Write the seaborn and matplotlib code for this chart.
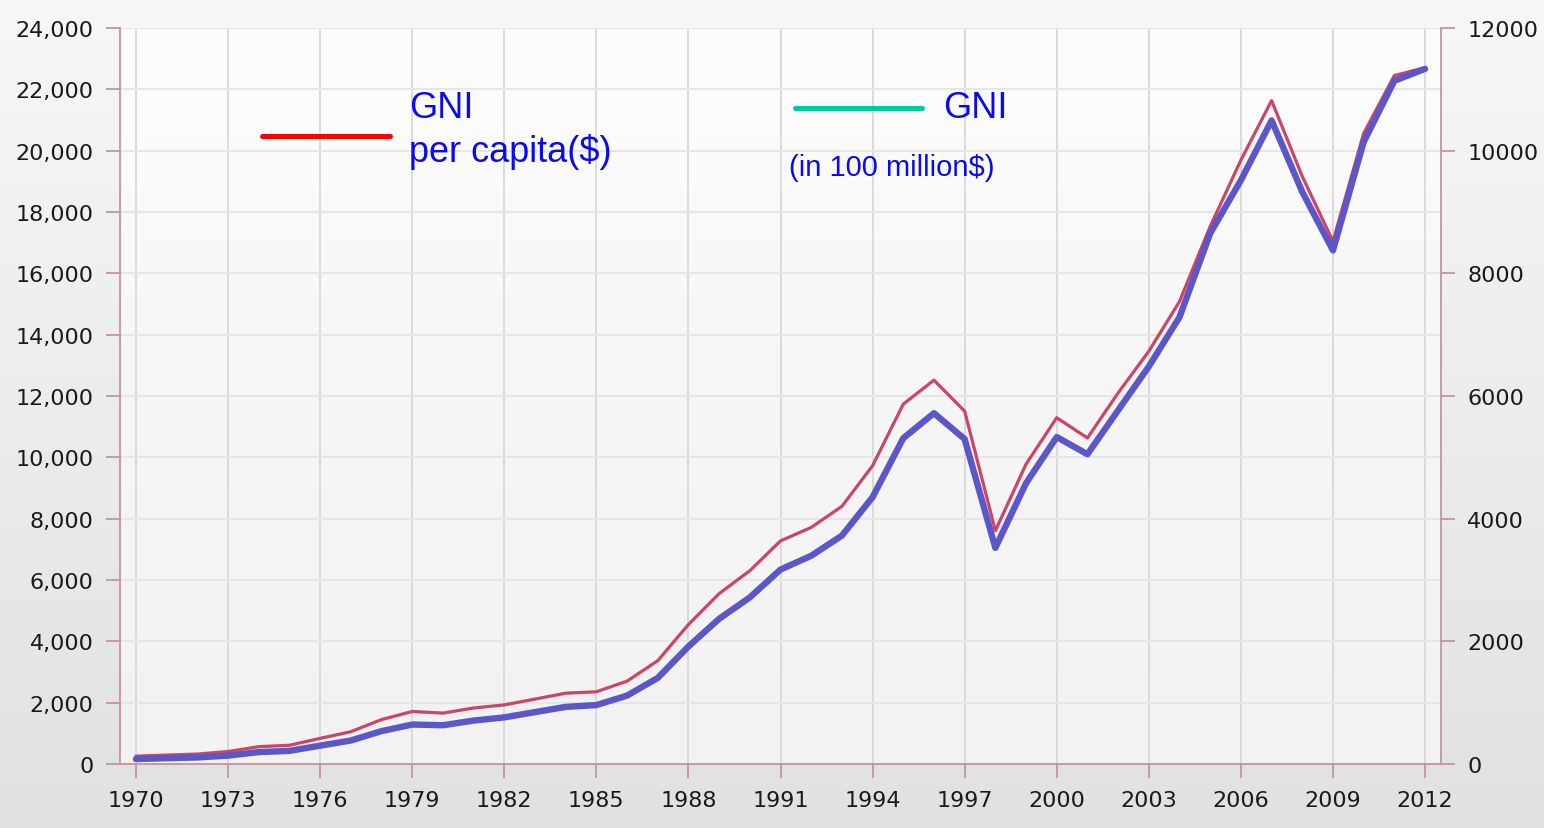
import numpy as np
import matplotlib
matplotlib.use("Agg")
import matplotlib.pyplot as plt
import seaborn as sns
from matplotlib.lines import Line2D
from matplotlib.ticker import FuncFormatter
from matplotlib.colors import LinearSegmentedColormap

# ---------------- data ----------------
years = list(range(1970, 2013))
gni_per_capita = [255, 291, 324, 407, 565, 611, 836, 1053, 1448, 1713,
                  1660, 1826, 1927, 2117, 2309, 2355, 2702, 3368, 4548, 5556,
                  6303, 7276, 7714, 8402, 9727, 11735, 12518, 11505, 7607, 9778,
                  11292, 10631, 12100, 13460, 15082, 17531, 19691, 21632, 19161, 17041,
                  20562, 22451, 22708]
gni_total = [81, 95, 107, 137, 194, 214, 299, 383, 536, 643,
             632, 708, 760, 846, 931, 961, 1115, 1403, 1916, 2367,
             2716, 3170, 3395, 3723, 4351, 5312, 5720, 5298, 3524, 4578,
             5331, 5050, 5767, 6480, 7286, 8651, 9517, 10493, 9327, 8374,
             10141, 11139, 11334]
x_ticks = list(range(1970, 2013, 3))
left_ticks = list(range(0, 24001, 2000))
right_ticks = list(range(0, 12001, 2000))
legend_labels = ["GNI", "per capita($)", "GNI", "(in 100 million$)"]

# ---------------- style ----------------
sns.set_theme(style="white")
plt.rcParams['font.family'] = ['DejaVu Sans']

W, H = 1544, 829
fig = plt.figure(figsize=(W / 100, H / 100), dpi=100)

# figure background gradient
bg = fig.add_axes([0, 0, 1, 1], zorder=-10)
grad = np.linspace(0, 1, 256).reshape(-1, 1)
bg.imshow(grad, aspect='auto', extent=[0, 1, 0, 1], origin='upper',
          cmap=LinearSegmentedColormap.from_list('bg', ['#f7f7f7', '#ececec', '#e1e1e1']))
bg.axis('off')

L, R, T, B = 120, 1441, 29, 765
ax = fig.add_axes([L / W, 1 - B / H, (R - L) / W, (B - T) / H])
ax.set_xlim(1969.48, 2012.52)
ax.set_ylim(0, 24000)

# plot-area background gradient
ax.imshow(grad, aspect='auto', extent=[1969.48, 2012.52, 0, 24000], origin='upper',
          cmap=LinearSegmentedColormap.from_list('pa', ['#fdfdfd', '#f6f6f6', '#f2f2f2']),
          zorder=0)

spine_col = '#c4949f'
red = '#cc4466'
blue = '#5b57c9'

sns.lineplot(x=years, y=gni_per_capita, ax=ax, color=red, linewidth=2.3,
             zorder=3, legend=False)
ax2 = ax.twinx()
sns.lineplot(x=years, y=gni_total, ax=ax2, color=blue, linewidth=4.6,
             zorder=3, legend=False, solid_capstyle='round', solid_joinstyle='round')
ax2.set_ylim(0, 12000)
ax.set_xlim(1969.48, 2012.52)

ax.set_xticks(x_ticks)
ax.set_yticks(left_ticks)
ax2.set_yticks(right_ticks)
ax.yaxis.set_major_formatter(FuncFormatter(lambda v, p: f"{int(v):,}"))
ax2.yaxis.set_major_formatter(FuncFormatter(lambda v, p: f"{int(v)}"))
ax.set_xlabel("")
ax.set_ylabel("")
ax2.set_ylabel("")

ax.grid(axis='x', color='#d8d8d8', linewidth=1.3, zorder=1)
ax.grid(axis='y', color='#e6e6e6', linewidth=1.5, zorder=1)
ax2.grid(False)

for sp in ['top', 'right']:
    ax.spines[sp].set_visible(False)
for sp in ['top', 'left', 'bottom']:
    ax2.spines[sp].set_visible(False)
for sp in ['left', 'bottom']:
    ax.spines[sp].set_color(spine_col)
    ax.spines[sp].set_linewidth(1.3)
ax2.spines['right'].set_color(spine_col)
ax2.spines['right'].set_linewidth(1.3)

ax.tick_params(axis='both', which='major', direction='out', length=10, width=1.3,
               color=spine_col, labelsize=16, labelcolor='#1a1a1a',
               bottom=True, left=True, pad=9)
ax2.tick_params(axis='y', which='major', direction='out', length=10, width=1.3,
                color=spine_col, labelsize=16, labelcolor='#1a1a1a',
                right=True, left=False, pad=9)

# ---------------- legend ----------------
def fx(px):
    return px / W

def fy(py):
    return 1 - py / H

fig.add_artist(Line2D([fx(262), fx(390)], [fy(137), fy(137)], color='#ff0000',
                      linewidth=3.6, transform=fig.transFigure))
fig.add_artist(Line2D([fx(795), fx(922)], [fy(109), fy(109)], color='#00cc99',
                      linewidth=3.6, transform=fig.transFigure))

lfont = ['Liberation Sans', 'DejaVu Sans']
tc = '#0a0aee'
fig.text(fx(409), fy(118), legend_labels[0], color=tc, fontsize=26, family=lfont, va='baseline')
fig.text(fx(409), fy(162), legend_labels[1], color=tc, fontsize=26, family=lfont, va='baseline')
fig.text(fx(943), fy(118), legend_labels[2], color=tc, fontsize=26, family=lfont, va='baseline')
fig.text(fx(789), fy(176), legend_labels[3], color=tc, fontsize=21, family=lfont, va='baseline')

fig.savefig('out.png', dpi=100)
